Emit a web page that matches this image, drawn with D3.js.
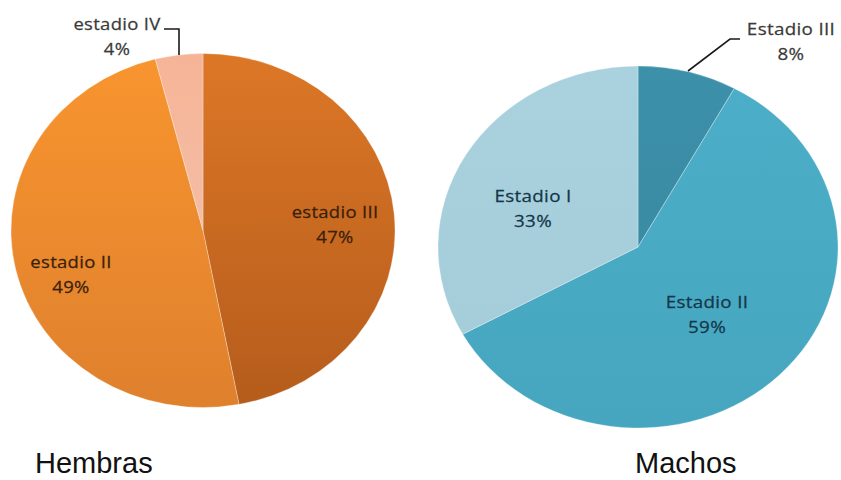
<!DOCTYPE html>
<html>
<head>
<meta charset="utf-8">
<script src="https://cdn.jsdelivr.net/npm/d3@7"></script>
<style>
  html, body { margin: 0; padding: 0; background: #ffffff; }
  svg { display: block; }
</style>
</head>
<body>
<svg id="chart" width="841" height="480"></svg>
<script>
// Stage distribution by sex
const hembrasStages = ["estadio III", "estadio II", "estadio IV"];
const hembrasValues = [47, 49, 4];
const machosStages = ["Estadio III", "Estadio II", "Estadio I"];
const machosValues = [8, 59, 33];
const panelTitles = ["Hembras", "Machos"];

const svg = d3.select("#chart");
const defs = svg.append("defs");

// Panel geometry (pies are drawn as circles and stretched horizontally)
const panels = [
  {
    stages: hembrasStages, values: hembrasValues, title: panelTitles[0],
    cx: 203, cy: 230.5, rx: 192, ry: 177,
    fills: [["#dc7726", "#b55c1c"], ["#f8952f", "#df802d"], ["#f6b497", "#f2c6b3"]],
    textColor: "#3a1f0a",
    labels: [
      { x: 335, y: 218, inside: true },
      { x: 71, y: 268, inside: true },
      { x: 117, y: 30, inside: false, leader: [[164, 29], [179, 29], [179, 55]] }
    ],
    titleX: 35
  },
  {
    stages: machosStages, values: machosValues, title: panelTitles[1],
    cx: 638, cy: 247, rx: 200, ry: 181,
    fills: [["#3c90a9", "#38879f"], ["#4caec8", "#46a6c0"], ["#a9d2de", "#a3cbd8"]],
    textColor: "#143648",
    labels: [
      { x: 791, y: 35, inside: false, leader: [[740, 39], [730, 39], [688, 71]] },
      { x: 707, y: 308, inside: true },
      { x: 533, y: 202, inside: true }
    ],
    titleX: 635
  }
];

const pie = d3.pie().sort(null).value(d => d.value).startAngle(0).endAngle(2 * Math.PI);

panels.forEach((p, pi) => {
  const data = p.stages.map((s, i) => ({ stage: s, value: p.values[i] }));
  const arcs = pie(data);
  const sx = p.rx / p.ry;
  const arc = d3.arc().innerRadius(0).outerRadius(p.ry);

  // vertical shading per slice
  p.fills.forEach((f, i) => {
    const g = defs.append("linearGradient")
      .attr("id", `grad-${pi}-${i}`)
      .attr("gradientUnits", "userSpaceOnUse")
      .attr("x1", 0).attr("y1", -p.ry).attr("x2", 0).attr("y2", p.ry);
    g.append("stop").attr("offset", "0%").attr("stop-color", f[0]);
    g.append("stop").attr("offset", "100%").attr("stop-color", f[1]);
  });

  const g = svg.append("g")
    .attr("transform", `translate(${p.cx},${p.cy}) scale(${sx},1)`);

  g.selectAll("path.slice")
    .data(arcs)
    .join("path")
    .attr("class", "slice")
    .attr("d", arc)
    .attr("fill", (d, i) => `url(#grad-${pi}-${i})`)
    .attr("stroke", "rgba(255,255,255,0.35)")
    .attr("stroke-width", 0.8);

  // leader lines for outside labels
  p.labels.forEach(l => {
    if (l.leader) {
      svg.append("path")
        .attr("d", d3.line()(l.leader))
        .attr("fill", "none")
        .attr("stroke", "#1a1a1a")
        .attr("stroke-width", 1.6);
    }
  });

  // data labels: stage name + percentage
  arcs.forEach((a, i) => {
    const l = p.labels[i];
    const t = svg.append("g")
      .attr("transform", `translate(${l.x},${l.y}) scale(${sx},1)`);
    const color = l.inside ? p.textColor : "#3a3a3a";
    [a.data.stage, `${a.data.value}%`].forEach((txt, k) => {
      t.append("text")
        .attr("text-anchor", "middle")
        .attr("y", k * 25)
        .attr("font-family", "'Open Sans', 'DejaVu Sans', sans-serif")
        .attr("font-size", 17)
        .attr("font-weight", 400)
        .attr("letter-spacing", 0.3)
        .attr("stroke", color)
        .attr("stroke-width", 0.25)
        .attr("fill", color)
        .text(txt);
    });
  });

  svg.append("text")
    .attr("x", p.titleX)
    .attr("y", 473)
    .attr("font-family", "'Liberation Sans', Arial, sans-serif")
    .attr("font-size", 29)
    .attr("fill", "#111111")
    .text(p.title);
});
</script>
</body>
</html>
